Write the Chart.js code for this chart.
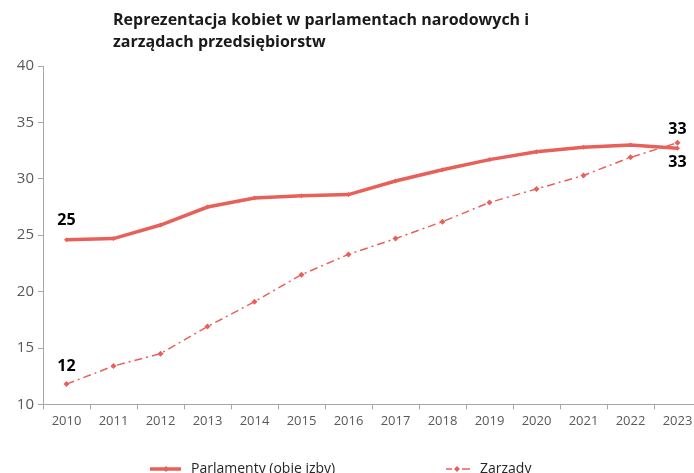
<!DOCTYPE html>
<html>
<head>
<meta charset="utf-8">
<script src="https://cdn.jsdelivr.net/npm/chart.js@4/dist/chart.umd.min.js"></script>
<style>
  html, body { margin: 0; padding: 0; background: #fff; overflow: hidden; }
  #wrap { position: relative; width: 712px; height: 473px; }
</style>
</head>
<body>
<div id="wrap"><canvas id="chart"></canvas></div>
<script>
// dane
const years = ['2010','2011','2012','2013','2014','2015','2016','2017','2018','2019','2020','2021','2022','2023'];
const parlamenty = [24.6, 24.7, 25.9, 27.5, 28.3, 28.5, 28.6, 29.8, 30.8, 31.7, 32.4, 32.8, 33.0, 32.7];
const zarzady = [11.8, 13.4, 14.5, 16.9, 19.1, 21.5, 23.3, 24.7, 26.2, 27.9, 29.1, 30.3, 31.9, 33.2];
const seriesNames = ['Parlamenty (obie izby)', 'Zarządy'];
const titleLines = ['Reprezentacja kobiet w parlamentach narodowych i', 'zarządach przedsiębiorstw'];
const yTicks = [10, 15, 20, 25, 30, 35, 40];

const red = '#e8605a';
const grey = '#a6a6a6';
const tickColor = '#595959';
const font = '"Open Sans", "Noto Sans", sans-serif';

// tytuł, etykiety wartości i legenda rysowane ręcznie
const extras = {
    id: 'extras',
    afterDraw(chart) {
        const ctx = chart.ctx;
        ctx.save();
        ctx.fillStyle = '#1a1a1a';
        ctx.font = 'bold 16px ' + font;
        ctx.textAlign = 'left';
        ctx.textBaseline = 'middle';
        ctx.fillText(titleLines[0], 113, 20);
        ctx.fillText(titleLines[1], 113, 42);

        // etykiety pierwszej i ostatniej wartości
        const m0 = chart.getDatasetMeta(0).data;
        const m1 = chart.getDatasetMeta(1).data;
        const last = years.length - 1;
        ctx.fillStyle = '#000';
        ctx.font = 'bold 16px ' + font;
        ctx.textAlign = 'center';
        ctx.fillText(Math.round(parlamenty[0]), m0[0].x, m0[0].y - 19);
        ctx.fillText(Math.round(zarzady[0]), m1[0].x, m1[0].y - 18);
        ctx.fillText(Math.round(zarzady[last]), m1[last].x, m1[last].y - 13);
        ctx.fillText(Math.round(parlamenty[last]), m0[last].x, m0[last].y + 14);

        // legenda
        const ly = 469;
        ctx.strokeStyle = red;
        ctx.fillStyle = red;
        ctx.lineWidth = 3.5;
        ctx.beginPath();
        ctx.moveTo(150, ly); ctx.lineTo(181, ly);
        ctx.stroke();
        ctx.beginPath();
        ctx.moveTo(166, ly - 3); ctx.lineTo(169, ly); ctx.lineTo(166, ly + 3); ctx.lineTo(163, ly);
        ctx.closePath(); ctx.fill();

        ctx.lineWidth = 1.5;
        ctx.beginPath();
        ctx.moveTo(446, ly); ctx.lineTo(452, ly);
        ctx.moveTo(462, ly); ctx.lineTo(470, ly);
        ctx.stroke();
        ctx.beginPath();
        ctx.moveTo(457, ly - 3); ctx.lineTo(460, ly); ctx.lineTo(457, ly + 3); ctx.lineTo(454, ly);
        ctx.closePath(); ctx.fill();

        ctx.fillStyle = '#262626';
        ctx.font = '14px ' + font;
        ctx.textAlign = 'left';
        ctx.fillText(seriesNames[0], 191, ly);
        ctx.fillText(seriesNames[1], 480, ly);
        ctx.restore();
    }
};

new Chart(document.getElementById('chart'), {
    type: 'line',
    data: {
        labels: years,
        datasets: [{
            label: seriesNames[0],
            data: parlamenty,
            borderColor: red,
            backgroundColor: red,
            borderWidth: 3.5,
            pointStyle: 'rectRot',
            pointRadius: 2.5,
            pointBorderWidth: 0,
            tension: 0
        }, {
            label: seriesNames[1],
            data: zarzady,
            borderColor: red,
            backgroundColor: red,
            borderWidth: 1.5,
            borderDash: [8, 4, 2, 4],
            pointStyle: 'rectRot',
            pointRadius: 3,
            pointBorderWidth: 0,
            tension: 0
        }]
    },
    options: {
        responsive: true,
        maintainAspectRatio: false,
        animation: false,
        layout: { padding: { top: 66, right: 11, bottom: 40, left: 0 } },
        plugins: {
            legend: { display: false },
            tooltip: { enabled: false },
            title: { display: false }
        },
        scales: {
            x: {
                offset: true,
                border: { color: grey, width: 1 },
                grid: { display: true, drawOnChartArea: false, drawTicks: true, tickLength: 5, color: grey, offset: true },
                ticks: { color: tickColor, font: { family: font, size: 13 }, padding: 4, maxRotation: 0, autoSkip: false }
            },
            y: {
                min: 10,
                max: 40,
                afterBuildTicks(scale) { scale.ticks = yTicks.map(v => ({ value: v })); },
                afterFit(scale) { scale.width = 43; },
                border: { color: grey, width: 1 },
                grid: { display: true, drawOnChartArea: false, drawTicks: true, tickLength: 5, color: grey },
                ticks: { color: tickColor, font: { family: font, size: 15 }, padding: 4 }
            }
        }
    },
    plugins: [extras]
});
</script>
</body>
</html>
